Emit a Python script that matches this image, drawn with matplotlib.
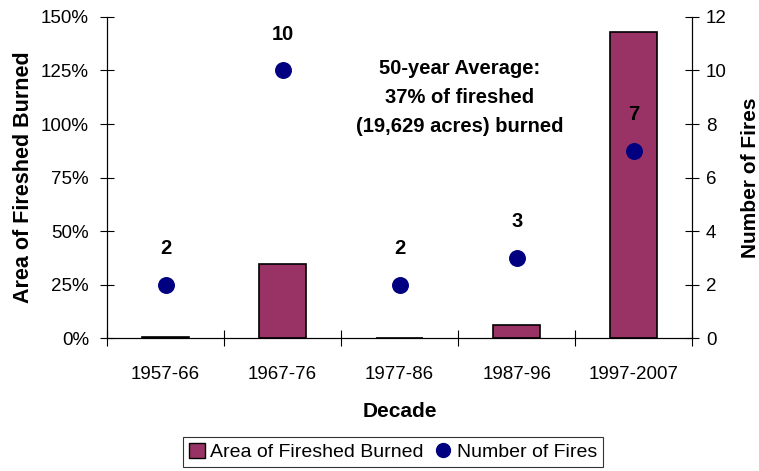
import matplotlib
matplotlib.use('Agg')
from matplotlib import pyplot as plt
from matplotlib.lines import Line2D
from matplotlib.patches import Patch
import numpy as np

plt.rcParams['font.family'] = ['Liberation Sans', 'DejaVu Sans']

decades = ['1957-66', '1967-76', '1977-86', '1987-96', '1997-2007']
area_burned = [0.5, 34.5, 0.0, 6.0, 143.0]   # percent of fireshed
num_fires = [2, 10, 2, 3, 7]

bar_color = '#993366'
dot_color = '#000080'

fig = plt.figure(figsize=(7.59, 4.71), dpi=100)
ax = fig.add_axes([0.141, 0.282, 0.771, 0.682])
ax2 = ax.twinx()

x = np.arange(len(decades))
ax.bar(x, area_burned, width=0.4, color=bar_color, edgecolor='black', linewidth=1.2, zorder=2)
ax2.scatter(x, num_fires, s=125, color=dot_color, zorder=3)
for xi, n in zip(x, num_fires):
    ax2.text(xi, n + 1.0, str(n), ha='center', va='bottom', fontsize=14.5, fontweight='bold')

ax.set_xlim(-0.5, len(decades) - 0.5)
ax.set_ylim(0, 150)
ax2.set_ylim(0, 12)

ax.set_yticks(np.arange(0, 151, 25))
ax.set_yticklabels(['%d%%' % v for v in np.arange(0, 151, 25)])
ax2.set_yticks(np.arange(0, 13, 2))

ax.set_xticks(np.arange(-0.5, len(decades), 1.0))
ax.set_xticklabels([])
ax.set_xticks(x, minor=True)
ax.set_xticklabels(decades, minor=True)
ax.tick_params(axis='x', which='major', direction='inout', length=12, width=0.8)
ax.tick_params(axis='x', which='minor', length=0, pad=20, labelsize=13.5)
ax.tick_params(axis='y', direction='inout', length=10, width=0.8, labelsize=13.5, pad=8)
ax2.tick_params(axis='y', direction='inout', length=10, width=0.8, labelsize=13.5, pad=5)

for a in (ax, ax2):
    a.spines['top'].set_visible(False)
    for s in ('left', 'right', 'bottom'):
        a.spines[s].set_linewidth(0.8)
        a.spines[s].set_color('black')

ax.set_ylabel('Area of Fireshed Burned', fontsize=15.5, fontweight='bold', labelpad=5)
ax2.set_ylabel('Number of Fires', fontsize=15, fontweight='bold', labelpad=10)
ax.set_xlabel('Decade', fontsize=15, fontweight='bold', labelpad=14)

ax2.text(2.51, 9.0, '50-year Average:\n37% of fireshed\n(19,629 acres) burned',
         ha='center', va='center', fontsize=14.5, fontweight='bold', linespacing=1.65)

handles = [Patch(facecolor=bar_color, edgecolor='black', linewidth=1.0),
           Line2D([], [], marker='o', linestyle='none', color=dot_color, markersize=10)]
leg = fig.legend(handles, ['Area of Fireshed Burned', 'Number of Fires'],
                 loc='center', bbox_to_anchor=(0.518, 0.04), ncol=2, fontsize=14,
                 frameon=True, fancybox=False, handlelength=0.8, handleheight=0.8,
                 handletextpad=0.3, columnspacing=0.6, borderpad=0.3)
leg.get_frame().set_edgecolor('black')
leg.get_frame().set_linewidth(0.8)

fig.savefig('out.png', dpi=100)
